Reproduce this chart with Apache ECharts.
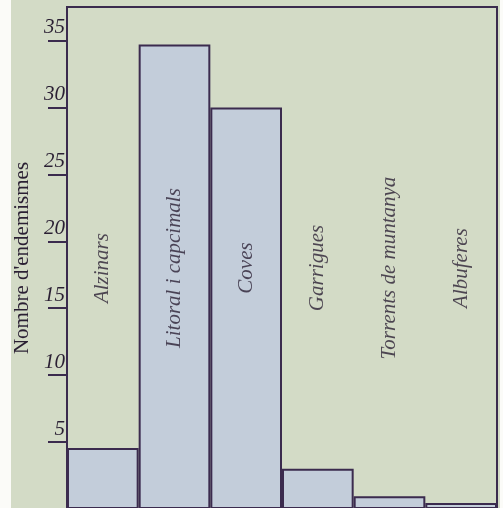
<!DOCTYPE html>
<html>
<head>
<meta charset="utf-8">
<script src="https://cdn.jsdelivr.net/npm/echarts@6/dist/echarts.min.js"></script>
<style>
html,body{margin:0;padding:0;background:#fbfbf8;overflow:hidden;width:503px;height:508px;}
#bg{position:absolute;left:11px;top:0;width:489px;height:508px;background:#d3dbc6;}
#chart{position:absolute;left:0;top:0;width:503px;height:513px;}
</style>
</head>
<body>
<div id="bg"></div>
<div id="chart"></div>
<script>
const categories = ['Alzinars', 'Litoral i capcimals', 'Coves', 'Garrigues', 'Torrents de muntanya', 'Albuferes'];
const values = [4.55, 34.7, 30.0, 3.0, 0.95, 0.45];
const tickValues = [5, 10, 15, 20, 25, 30, 35];
const labelLevel = [18, 18, 18, 18, 18, 18];
const yAxisTitle = "Nombre d'endemismes";

const ink = '#3b2b4e';
const serif = "'Liberation Serif', 'DejaVu Serif', 'Times New Roman', serif";
const chart = echarts.init(document.getElementById('chart'));
chart.setOption({
  animation: false,
  backgroundColor: 'transparent',
  grid: {
    left: 67, right: 6, top: 7, bottom: 4,
    show: true, borderColor: ink, borderWidth: 2, backgroundColor: 'transparent'
  },
  xAxis: {
    type: 'category',
    data: categories,
    axisLine: { show: false },
    axisTick: { show: false },
    axisLabel: { show: false },
    splitLine: { show: false }
  },
  yAxis: {
    type: 'value',
    min: 0, max: 37.5, interval: 5,
    name: yAxisTitle,
    nameLocation: 'middle',
    nameGap: 32,
    nameTextStyle: { fontFamily: serif, fontSize: 21, color: '#2a1f33' },
    axisLine: { show: true, lineStyle: { color: ink, width: 2 } },
    axisTick: { show: true, length: 19, lineStyle: { color: ink, width: 2 }, customValues: tickValues },
    axisLabel: {
      customValues: tickValues,
      margin: 2,
      verticalAlign: 'bottom',
      padding: [0, 0, 2, 0],
      fontFamily: serif, fontStyle: 'italic', fontSize: 21, color: '#2a1f33'
    },
    splitLine: { show: false }
  },
  series: [
    {
      type: 'bar',
      data: values,
      barCategoryGap: 0,
      itemStyle: { color: '#c3cdda', borderColor: ink, borderWidth: 2 }
    },
    {
      type: 'scatter',
      data: labelLevel,
      symbolSize: 1,
      itemStyle: { color: 'transparent' },
      label: {
        show: true,
        position: 'inside',
        rotate: 90,
        formatter: p => categories[p.dataIndex],
        fontFamily: serif, fontStyle: 'italic', fontSize: 21, color: '#2a1f33'
      },
      z: 5
    }
  ]
});
</script>
</body>
</html>
